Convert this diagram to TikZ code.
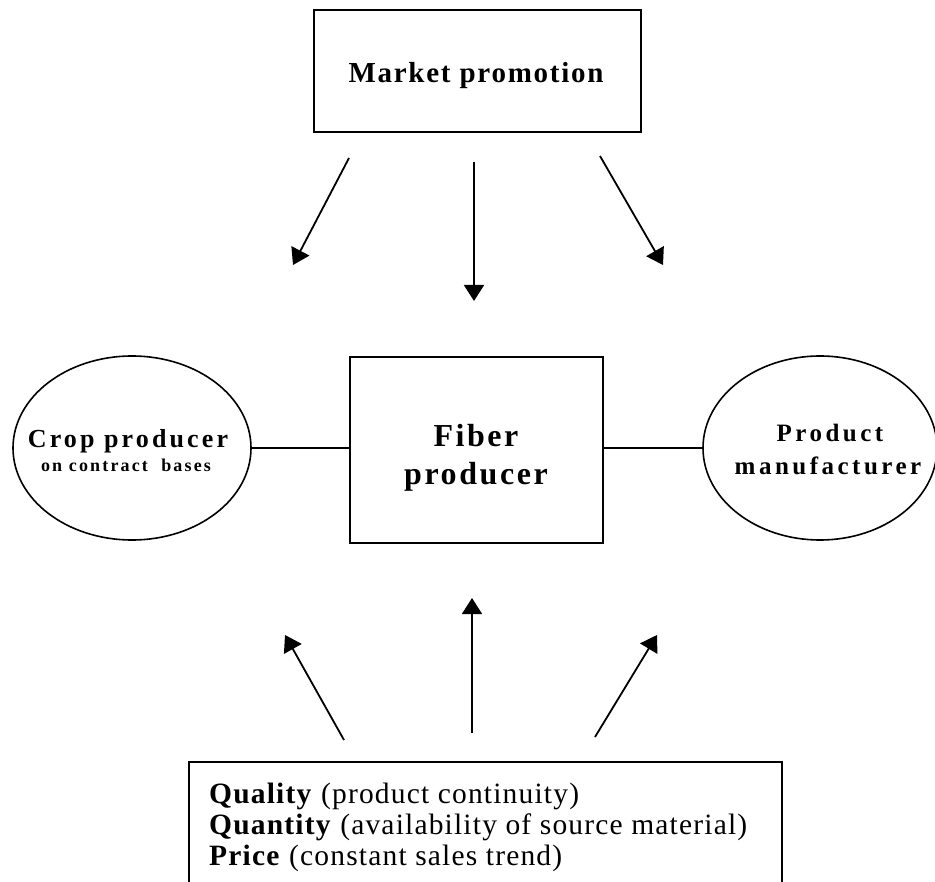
\documentclass[tikz,border=0pt]{standalone}
\usepackage{fontspec}
\setmainfont{Liberation Serif}
\newfontfamily\fMP[LetterSpace=6]{Liberation Serif}
\newfontfamily\fFP[LetterSpace=8]{Liberation Serif}
\newfontfamily\fCP[LetterSpace=12]{Liberation Serif}
\newfontfamily\fCS[LetterSpace=12]{Liberation Serif}
\newfontfamily\fPM[LetterSpace=14]{Liberation Serif}
\newfontfamily\fQ[LetterSpace=4]{Liberation Serif}
\usetikzlibrary{arrows.meta,shapes.geometric}
\begin{document}
\begin{tikzpicture}[x=1pt,y=-1pt,
  box/.style={draw,line width=1.8pt,rectangle,inner sep=0pt},
  oval/.style={draw,line width=1.6pt,ellipse,inner sep=0pt},
  txt/.style={inner sep=0pt,anchor=base},
  link/.style={line width=1.6pt},
  arr/.style={line width=1.8pt,-{Triangle[length=16pt,width=20pt]}}]
\useasboundingbox (0,0) rectangle (935,882);
\clip (0,0) rectangle (935,882);
% shapes
\node[box,minimum width=327pt,minimum height=122pt] (mp) at (477.5,71) {};
\node[box,minimum width=253pt,minimum height=186pt] (fp) at (476.5,450) {};
\node[oval,minimum width=238pt,minimum height=184pt] (crop) at (132,448) {};
\node[oval,minimum width=234pt,minimum height=184pt] (prod) at (820,448) {};
\node[box,minimum width=593pt,minimum height=140pt] (qbox) at (485.5,832) {};
% texts
\node[txt] (tmp) at (476,83) {\fMP\fontsize{29}{34}\selectfont\bfseries Market promotion};
\node[txt] (tfp1) at (476,447) {\fFP\fontsize{32}{38}\selectfont\bfseries Fiber};
\node[txt] (tfp2) at (476,485) {\fFP\fontsize{32}{38}\selectfont\bfseries producer};
\node[txt] (tcp1) at (128,448) {\fCP\fontsize{26}{30}\selectfont\bfseries Crop producer};
\node[txt] (tcp2) at (126,472) {\fCS\fontsize{18}{21}\selectfont\bfseries on contract\ \ bases};
\node[txt] (tpm1) at (830,442) {\fPM\fontsize{25}{29}\selectfont\bfseries Product};
\node[txt] (tpm2) at (828,475) {\fPM\fontsize{25}{29}\selectfont\bfseries manufacturer};
\node[txt,anchor=base west] (tq1) at (209,803) {\fQ\fontsize{29.5}{31}\selectfont\textbf{Quality} (product continuity)};
\node[txt,anchor=base west] (tq2) at (209,834) {\fQ\fontsize{29.5}{31}\selectfont\textbf{Quantity} (availability of source material)};
\node[txt,anchor=base west] (tq3) at (209,865) {\fQ\fontsize{29.5}{31}\selectfont\textbf{Price} (constant sales trend)};
% links
\draw[link] (crop.east) -- (crop.east -| fp.west);
\draw[link] (prod.west) -- (prod.west -| fp.east);
% arrow end points
\coordinate (a1s) at (349,158); \coordinate (a1e) at (293,265);
\coordinate (a2s) at (474,162); \coordinate (a2e) at (474,301);
\coordinate (a3s) at (600,156); \coordinate (a3e) at (663,265);
\coordinate (b1s) at (344,740); \coordinate (b1e) at (285,635);
\coordinate (b2s) at (472,733); \coordinate (b2e) at (472,598);
\coordinate (b3s) at (595,737); \coordinate (b3e) at (657,635);
\draw[arr] (a1s) -- (a1e);
\draw[arr] (a2s) -- (a2e);
\draw[arr] (a3s) -- (a3e);
\draw[arr] (b1s) -- (b1e);
\draw[arr] (b2s) -- (b2e);
\draw[arr] (b3s) -- (b3e);
\end{tikzpicture}
\end{document}
